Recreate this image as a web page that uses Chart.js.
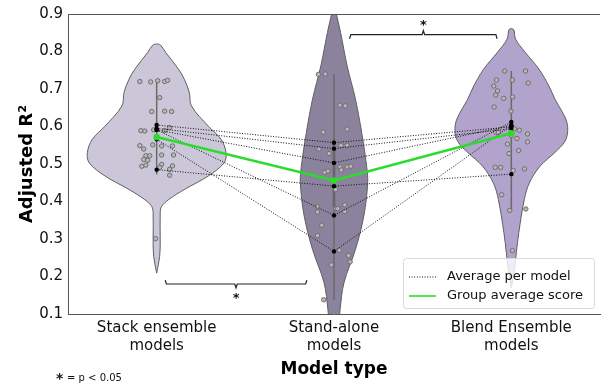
<!DOCTYPE html>
<html>
<head>
<meta charset="utf-8">
<title>Adjusted R2 by model type</title>
<script src="https://cdn.jsdelivr.net/npm/chart.js"></script>
<style>
  html, body { margin: 0; padding: 0; background: #fff; }
</style>
</head>
<body>
<canvas id="chart" width="605" height="391"></canvas>
<script>
// categories on the x axis
const categories = [['Stack ensemble', 'models'], ['Stand-alone', 'models'], ['Blend Ensemble', 'models']];
const yTicks = [0.1, 0.2, 0.3, 0.4, 0.5, 0.6, 0.7, 0.8, 0.9];

// average score of each model (same model order in every group)
const stackAvg = [0.604, 0.595, 0.591, 0.591, 0.566, 0.485];
const standAloneAvg = [0.557, 0.541, 0.503, 0.363, 0.267, 0.441];
const blendAvg = [0.599, 0.594, 0.603, 0.612, 0.603, 0.473];
const groupAvg = [0.572, 0.456, 0.582];

// individual scores, with the strip-plot jitter (in category units)
const stackJitter = [-0.095, -0.034, 0.006, 0.045, 0.061, 0.017, -0.028, 0.045, 0.084, -0.089, -0.067, -0.017, 0.073, 0.045, -0.095, -0.073, -0.022, 0.028, 0.089, -0.061, -0.039, -0.073, -0.050, 0.028, 0.095, -0.061, -0.084, 0.028, 0.089, 0.073, 0.017, 0.073, -0.006];
const stackScores = [0.720, 0.719, 0.722, 0.720, 0.723, 0.677, 0.640, 0.641, 0.640, 0.589, 0.588, 0.591, 0.597, 0.589, 0.549, 0.540, 0.551, 0.548, 0.548, 0.522, 0.522, 0.512, 0.510, 0.524, 0.524, 0.497, 0.494, 0.499, 0.495, 0.486, 0.491, 0.470, 0.301];
const saJitter = [-0.088, -0.049, 0.034, 0.063, -0.061, 0.074, 0.039, 0.074, -0.085, -0.028, 0.034, 0.041, 0.074, 0.095, -0.052, -0.034, 0.009, 0.011, 0.021, -0.093, -0.093, 0.061, 0.061, -0.069, -0.093, 0.030, 0.082, 0.091, -0.015, -0.058];
const saScores = [0.739, 0.740, 0.657, 0.655, 0.585, 0.593, 0.550, 0.550, 0.540, 0.528, 0.492, 0.484, 0.492, 0.494, 0.478, 0.481, 0.432, 0.381, 0.381, 0.386, 0.372, 0.391, 0.373, 0.337, 0.309, 0.270, 0.256, 0.239, 0.231, 0.138];
const blendJitter = [-0.037, 0.080, -0.084, 0.006, 0.095, -0.099, -0.078, -0.088, -0.043, 0.007, -0.097, -0.002, -0.088, -0.073, 0.018, 0.045, 0.000, 0.032, 0.091, 0.091, -0.022, -0.013, 0.041, -0.091, -0.060, 0.011, 0.074, -0.054, -0.009, 0.082, 0.006];
const blendScores = [0.748, 0.748, 0.724, 0.724, 0.716, 0.708, 0.695, 0.684, 0.675, 0.679, 0.652, 0.641, 0.585, 0.585, 0.594, 0.590, 0.576, 0.568, 0.580, 0.559, 0.553, 0.528, 0.536, 0.491, 0.491, 0.483, 0.487, 0.418, 0.376, 0.380, 0.269];

// violin outlines: density half-width (category units) at each score level
const stackLevels = [0.209, 0.254, 0.298, 0.370, 0.387, 0.405, 0.432, 0.468, 0.503, 0.530, 0.566, 0.601, 0.655, 0.691, 0.726, 0.753, 0.798, 0.817, 0.820];
const stackHalf = [0, 0.017, 0.020, 0.020, 0.028, 0.067, 0.156, 0.291, 0.380, 0.391, 0.363, 0.291, 0.196, 0.184, 0.156, 0.123, 0.050, 0.022, 0];
const saLevels = [0.04, 0.08, 0.111, 0.183, 0.272, 0.361, 0.450, 0.494, 0.584, 0.673, 0.762, 0.851, 0.905, 0.93];
const saHalf = [0, 0.028, 0.034, 0.056, 0.121, 0.168, 0.190, 0.184, 0.156, 0.121, 0.074, 0.037, 0.011, 0];
const blendLevels = [0.170, 0.218, 0.263, 0.317, 0.405, 0.449, 0.494, 0.531, 0.560, 0.590, 0.620, 0.673, 0.708, 0.753, 0.798, 0.833, 0.858, 0.861];
const blendHalf = [0, 0.017, 0.028, 0.042, 0.073, 0.101, 0.162, 0.246, 0.302, 0.318, 0.307, 0.246, 0.212, 0.156, 0.078, 0.024, 0.014, 0];

// whisker range inside each violin
const whiskerLow = [0.472, 0.138, 0.374];
const whiskerHigh = [0.726, 0.740, 0.748];

const FONT = '"DejaVu Sans", "Liberation Sans", sans-serif';
const GREEN = '#2bdc2b';
const violinColors = ['#cbc7d8', '#8b829d', '#b1a3cb'];

function violinOutline(center, levels, half) {
  const left = levels.map((v, k) => ({x: center - half[k], y: v}));
  const right = levels.map((v, k) => ({x: center + half[k], y: v})).reverse();
  return left.concat(right.slice(1));
}

function strip(center, jitter, scores) {
  return jitter.map((j, k) => ({x: center + j, y: scores[k]}));
}

// significance bracket: ends bend toward the data, small tick toward the star
function bracket(x1, x2, y, h) {
  const m = (x1 + x2) / 2;
  return [
    {x: x1, y: y - h}, {x: x1 + 0.007, y: y}, {x: m - 0.007, y: y},
    {x: m, y: y + h}, {x: m + 0.007, y: y}, {x: x2 - 0.007, y: y}, {x: x2, y: y - h}
  ];
}
const brackets = [
  {points: bracket(1.088, 1.92, 0.845, 0.011), star: {x: 1.504, y: 0.868}},
  {points: bracket(0.048, 0.847, 0.180, -0.010), star: {x: 0.448, y: 0.141}}
];

const datasets = [];
const outlines = [
  violinOutline(0, stackLevels, stackHalf),
  violinOutline(1, saLevels, saHalf),
  violinOutline(2, blendLevels, blendHalf)
];
outlines.forEach((pts, i) => {
  datasets.push({
    type: 'line', data: pts, fill: 'shape', backgroundColor: violinColors[i],
    borderColor: '#5f5f5f', borderWidth: 1, pointRadius: 0, tension: 0.35, order: 10
  });
  datasets.push({
    type: 'line', data: [{x: i, y: whiskerLow[i]}, {x: i, y: whiskerHigh[i]}],
    borderColor: '#6a6a6a', borderWidth: 1.5, pointRadius: 0, order: 9
  });
});
// thicker inner box on the stand-alone violin
datasets.push({
  type: 'line', data: [{x: 1, y: 0.387}, {x: 1, y: 0.566}],
  borderColor: '#5e5e5e', borderWidth: 2.5, pointRadius: 0, order: 9
});

[strip(0, stackJitter, stackScores), strip(1, saJitter, saScores), strip(2, blendJitter, blendScores)].forEach(pts => {
  datasets.push({
    type: 'scatter', data: pts, pointRadius: 2.2, backgroundColor: '#b8b8b8',
    borderColor: '#6e6e6e', borderWidth: 1, order: 7
  });
});

const blackDots = [];
stackAvg.forEach((s, k) => {
  const pts = [{x: 0, y: s}, {x: 1, y: standAloneAvg[k]}, {x: 2, y: blendAvg[k]}];
  blackDots.push(...pts);
  datasets.push({
    type: 'line', data: pts, borderColor: '#111', borderWidth: 1,
    borderDash: [1, 1.6], pointRadius: 0, order: 5
  });
});
datasets.push({
  type: 'scatter', data: blackDots, pointRadius: 2.2, backgroundColor: '#000',
  borderWidth: 0, order: 4
});

datasets.push({
  type: 'line', data: groupAvg.map((v, i) => ({x: i, y: v})), borderColor: GREEN,
  borderWidth: 2.5, pointRadius: 3.3, pointBackgroundColor: GREEN, pointBorderWidth: 0, order: 3
});

brackets.forEach(b => {
  datasets.push({
    type: 'line', data: b.points, borderColor: '#222', borderWidth: 1.2,
    pointRadius: 0, order: 2, clip: false
  });
});

const extras = {
  id: 'extras',
  afterDraw(chart) {
    const {ctx, chartArea: a, scales: {x, y}} = chart;
    ctx.save();
    // top edge of the frame
    ctx.strokeStyle = '#555';
    ctx.lineWidth = 1;
    ctx.beginPath();
    ctx.moveTo(a.left, a.top + 0.5);
    ctx.lineTo(a.right, a.top + 0.5);
    ctx.stroke();

    // significance stars
    ctx.fillStyle = '#111';
    ctx.font = 'bold 13px ' + FONT;
    ctx.textAlign = 'center';
    ctx.textBaseline = 'middle';
    brackets.forEach(b => ctx.fillText('*', x.getPixelForValue(b.star.x), y.getPixelForValue(b.star.y)));

    // legend box, bottom right of the plot
    const w = 191, h = 50;
    const lx = a.right - 6 - w, ly = a.bottom - 6 - h;
    ctx.fillStyle = 'rgba(255,255,255,0.8)';
    ctx.strokeStyle = '#d8d8d8';
    ctx.beginPath();
    ctx.roundRect(lx + 0.5, ly + 0.5, w, h, 3);
    ctx.fill();
    ctx.stroke();
    const rows = [
      {label: 'Average per model', color: '#111', width: 1, dash: [1, 1.6]},
      {label: 'Group average score', color: GREEN, width: 1.6, dash: []}
    ];
    ctx.textAlign = 'left';
    ctx.font = '13px ' + FONT;
    rows.forEach((r, k) => {
      const ry = ly + 19 + k * 19;
      ctx.strokeStyle = r.color;
      ctx.lineWidth = r.width;
      ctx.setLineDash(r.dash);
      ctx.beginPath();
      ctx.moveTo(lx + 6, ry);
      ctx.lineTo(lx + 33, ry);
      ctx.stroke();
      ctx.setLineDash([]);
      ctx.fillStyle = '#111';
      ctx.fillText(r.label, lx + 44, ry);
    });

    // footnote
    ctx.fillStyle = '#111';
    ctx.font = 'bold 14px ' + FONT;
    ctx.fillText('*', 56, 379);
    ctx.font = '10px ' + FONT;
    ctx.fillText('= p < 0.05', 67, 378);
    ctx.restore();
  }
};

new Chart(document.getElementById('chart'), {
  type: 'line',
  data: {datasets},
  options: {
    responsive: false,
    animation: false,
    devicePixelRatio: 1,
    layout: {padding: {top: 14, right: 0, bottom: 0, left: 0}},
    plugins: {legend: {display: false}, tooltip: {enabled: false}},
    scales: {
      x: {
        type: 'linear', min: -0.5, max: 2.5,
        afterBuildTicks: s => { s.ticks = categories.map((c, i) => ({value: i})); },
        afterFit: s => { s.height = 77; },
        grid: {display: false, drawTicks: false},
        border: {display: true, color: '#555', width: 1},
        ticks: {
          padding: 5, color: '#111', font: {family: FONT, size: 15},
          callback: v => categories[v]
        },
        title: {display: true, text: 'Model type', color: '#000', font: {family: FONT, size: 17, weight: 'bold'}, padding: {top: 0, bottom: 11}}
      },
      y: {
        type: 'linear', min: 0.1, max: 0.9,
        afterBuildTicks: s => { s.ticks = yTicks.map(v => ({value: v})); },
        afterFit: s => { s.width = 68; },
        grid: {display: false, drawTicks: false},
        border: {display: true, color: '#555', width: 1},
        ticks: {
          padding: 5, color: '#111', font: {family: FONT, size: 15},
          callback: v => v.toFixed(1)
        },
        title: {display: true, text: 'Adjusted R²', color: '#000', font: {family: FONT, size: 18, weight: 'bold'}, padding: {top: 17, bottom: 0}}
      }
    }
  },
  plugins: [extras]
});
</script>
</body>
</html>
